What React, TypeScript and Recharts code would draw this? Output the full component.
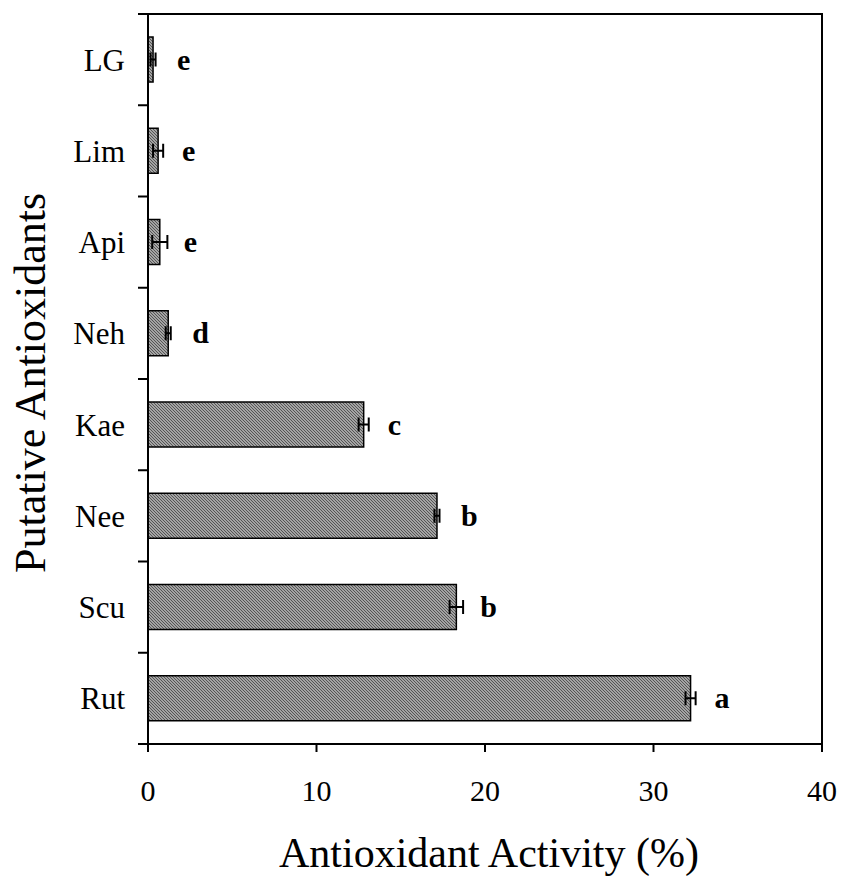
import { BarChart, Bar, XAxis, YAxis, ErrorBar, LabelList, ReferenceArea } from 'recharts'

const compounds = ['LG', 'Lim', 'Api', 'Neh', 'Kae', 'Nee', 'Scu', 'Rut']
const activity = [0.3, 0.6, 0.7, 1.2, 12.8, 17.15, 18.3, 32.2]
const activityErr = [0.15, 0.3, 0.45, 0.15, 0.3, 0.15, 0.4, 0.3]
const groups = ['e', 'e', 'e', 'd', 'c', 'b', 'b', 'a']
const xTicks = [0, 10, 20, 30, 40]

const FONT = '"Liberation Serif", "Times New Roman", serif'

const data = compounds.map((name, i) => ({
  name,
  activity: activity[i],
  err: activityErr[i],
  group: groups[i],
}))

function GroupLetter(props: any) {
  const { x, y, width, height, value } = props
  return (
    <text
      x={x + width + 24}
      y={y + height / 2 + 10}
      fontFamily={FONT}
      fontWeight="bold"
      fontSize={30}
      fill="#000"
    >
      {value}
    </text>
  )
}

// category label plus tick marks on the band edges (like the original plot)
function CategoryTick(props: any) {
  const { x, y, payload, index, visibleTicksCount } = props
  const half = payload.offset ?? 0
  const axisX = x + 21
  return (
    <g>
      <line x1={axisX} x2={axisX - 10} y1={y - half} y2={y - half} stroke="#000" strokeWidth={2} />
      {index === visibleTicksCount - 1 && (
        <line x1={axisX} x2={axisX - 10} y1={y + half} y2={y + half} stroke="#000" strokeWidth={2} />
      )}
      <text
        x={x - 2}
        y={y}
        dy={11}
        textAnchor="end"
        fontFamily={FONT}
        fontSize={31}
        fill="#000"
      >
        {payload.value}
      </text>
    </g>
  )
}

function ValueTick(props: any) {
  const { x, y, payload } = props
  return (
    <text x={x} y={y} dy={21} textAnchor="middle" fontFamily={FONT} fontSize={30} fill="#000">
      {payload.value}
    </text>
  )
}

export default function App() {
  return (
    <div style={{ position: 'absolute', left: 0, top: 0, fontFamily: FONT }}>
      <BarChart
        width={841}
        height={878}
        data={data}
        layout="vertical"
        margin={{ top: 14, right: 19, left: 0, bottom: 0 }}
        style={{ fontFamily: FONT }}
      >
        <defs>
          <pattern id="hatch" width="3" height="3" patternUnits="userSpaceOnUse">
            <rect width="3" height="3" fill="#a4a4a4" />
            <path d="M0,0 L3,3 M-1,2 L1,4 M2,-1 L4,1" stroke="#555" strokeWidth="1" />
          </pattern>
        </defs>
        <XAxis
          type="number"
          domain={[0, 40]}
          ticks={xTicks}
          allowDataOverflow
          height={134}
          tickSize={8}
          tickMargin={28}
          tick={<ValueTick />}
          axisLine={{ stroke: '#000', strokeWidth: 2 }}
          tickLine={{ stroke: '#000', strokeWidth: 2 }}
          label={{
            content: ({ viewBox }: any) => (
              <text
                x={viewBox.x + viewBox.width / 2 + 4}
                y={867}
                textAnchor="middle"
                fontFamily={FONT}
                fontSize={42}
                fill="#000"
              >
                Antioxidant Activity (%)
              </text>
            ),
          }}
        />
        <YAxis
          type="category"
          dataKey="name"
          width={148}
          tickLine={false}
          tickMargin={15}
          tick={<CategoryTick />}
          axisLine={{ stroke: '#000', strokeWidth: 2 }}
          label={{
            content: ({ viewBox }: any) => (
              <text
                x={45}
                y={viewBox.y + viewBox.height / 2 + 4}
                textAnchor="middle"
                transform={`rotate(-90 45 ${viewBox.y + viewBox.height / 2 + 4})`}
                fontFamily={FONT}
                fontSize={44}
                fill="#000"
              >
                Putative Antioxidants
              </text>
            ),
          }}
        />
        <ReferenceArea
          x1={0}
          x2={40}
          y1="LG"
          y2="Rut"
          fill="none"
          stroke="#000"
          strokeWidth={2}
          ifOverflow="visible"
        />
        <Bar
          dataKey="activity"
          barSize={45}
          fill="url(#hatch)"
          stroke="#000"
          strokeWidth={1.5}
          isAnimationActive={false}
        >
          <ErrorBar dataKey="err" direction="x" width={7} stroke="#000" strokeWidth={2} />
          <LabelList dataKey="group" content={GroupLetter} />
        </Bar>
      </BarChart>
    </div>
  )
}
